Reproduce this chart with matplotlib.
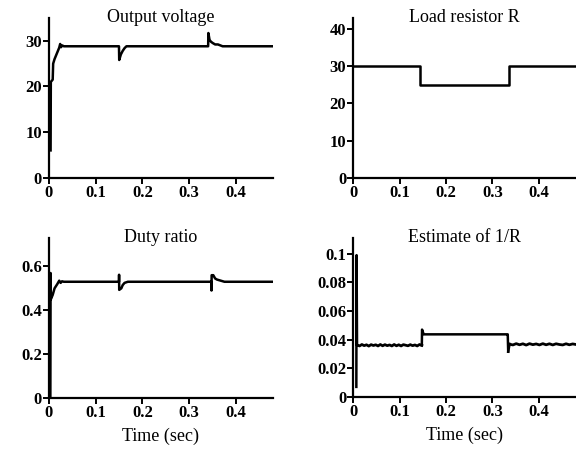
import numpy as np
import matplotlib
matplotlib.use("Agg")
import matplotlib.pyplot as plt

plt.rcParams['font.family'] = ['Liberation Serif', 'DejaVu Serif']

# output voltage (V)
t_v = [0.0035, 0.004, 0.008, 0.009, 0.012, 0.016, 0.02, 0.022, 0.024, 0.026, 0.028, 0.032,
       0.15, 0.1505, 0.154, 0.158, 0.162, 0.166, 0.341, 0.3415, 0.344, 0.347, 0.351, 0.356,
       0.362, 0.372, 0.48]
v_out = [6.0, 21.0, 21.5, 25.0, 26.0, 27.0, 28.0, 28.5, 29.3, 28.6, 29.0, 28.8,
         28.8, 25.8, 27.0, 27.8, 28.4, 28.8, 28.8, 31.7, 30.2, 29.8, 29.5, 29.2,
         29.2, 28.8, 28.8]

# load resistor (ohm)
t_r = [0, 0.144, 0.335, 0.48]
r_load = [30, 25, 30, 30]

# duty ratio
t_d = [0.003, 0.0035, 0.004, 0.008, 0.012, 0.018, 0.022, 0.025, 0.028, 0.032,
       0.15, 0.1502, 0.1505, 0.155, 0.158, 0.162, 0.169,
       0.348, 0.3482, 0.3485, 0.352, 0.356, 0.36, 0.368, 0.376, 0.48]
duty = [0.0, 0.57, 0.45, 0.47, 0.50, 0.52, 0.535, 0.525, 0.532, 0.53,
        0.53, 0.562, 0.493, 0.50, 0.515, 0.525, 0.53,
        0.53, 0.49, 0.56, 0.56, 0.545, 0.54, 0.535, 0.53, 0.53]

# estimate of 1/R
t_e = [0.007, 0.0075, 0.0085, 0.009, 0.148, 0.1485, 0.152, 0.33, 0.333, 0.334, 0.337]
est = [0.007, 0.099, 0.036, 0.036, 0.036, 0.047, 0.0437, 0.0437, 0.0437, 0.0316, 0.037]
est_noise1 = [0.0362, 0.0356, 0.0366, 0.0358, 0.0364, 0.0355, 0.0365, 0.0359, 0.0364,
              0.0356, 0.0366, 0.0357, 0.0365, 0.0358, 0.0363, 0.0356, 0.0366, 0.0357,
              0.0364, 0.0356, 0.0365, 0.0361, 0.0357, 0.0365, 0.0358, 0.0363, 0.0356,
              0.0366, 0.0360]
est_noise2 = [0.0368, 0.0363, 0.0372, 0.0364, 0.0371, 0.0362, 0.0372, 0.0365, 0.0370,
              0.0363, 0.0372, 0.0364, 0.0371, 0.0363, 0.0371, 0.0366, 0.0363, 0.0371,
              0.0364, 0.0370, 0.0366]

fig = plt.figure(figsize=(5.76, 4.49), dpi=100)
ax1 = fig.add_axes([0.085, 0.604, 0.389, 0.356])
ax2 = fig.add_axes([0.613, 0.604, 0.387, 0.356])
ax3 = fig.add_axes([0.085, 0.114, 0.389, 0.356])
ax4 = fig.add_axes([0.613, 0.116, 0.387, 0.354])

lw = 1.8
ax1.plot(t_v, v_out, color='black', lw=lw)
ax2.plot(t_r, r_load, color='black', lw=lw, drawstyle='steps-post')
ax3.plot(t_d, duty, color='black', lw=lw)
ax4.plot(t_e[:4], est[:4], color='black', lw=lw)
ax4.plot(np.linspace(0.009, 0.148, len(est_noise1)), est_noise1, color='black', lw=2.0)
ax4.plot(t_e[4:10], est[4:10], color='black', lw=lw)
ax4.plot([0.334, 0.337], [0.0316, 0.037], color='black', lw=lw)
ax4.plot(np.linspace(0.337, 0.48, len(est_noise2)), est_noise2, color='black', lw=2.0)

xt = [0, 0.1, 0.2, 0.3, 0.4]
xtl = ['0', '0.1', '0.2', '0.3', '0.4']
setup = [
    (ax1, 'Output voltage', (0, 35), [0, 10, 20, 30], ['0', '10', '20', '30']),
    (ax2, 'Load resistor R', (0, 43), [0, 10, 20, 30, 40], ['0', '10', '20', '30', '40']),
    (ax3, 'Duty ratio', (0, 0.73), [0, 0.2, 0.4, 0.6], ['0', '0.2', '0.4', '0.6']),
    (ax4, 'Estimate of 1/R', (0, 0.111), [0, 0.02, 0.04, 0.06, 0.08, 0.1],
     ['0', '0.02', '0.04', '0.06', '0.08', '0.1']),
]
for ax, title, yl, yt, ytl in setup:
    ax.set_xlim(0, 0.48)
    ax.set_ylim(*yl)
    ax.set_xticks(xt)
    ax.set_xticklabels(xtl)
    ax.set_yticks(yt)
    ax.set_yticklabels(ytl)
    for s in ['top', 'right']:
        ax.spines[s].set_visible(False)
    for s in ['left', 'bottom']:
        ax.spines[s].set_linewidth(1.6)
    ax.tick_params(width=1.4, length=4, labelsize=12, pad=1)
    for lab in ax.get_xticklabels() + ax.get_yticklabels():
        lab.set_fontweight('bold')
    ax.text(0.5, 1.005, title, transform=ax.transAxes, ha='center', va='center', fontsize=13)

ax3.set_xlabel('Time (sec)', fontsize=13, labelpad=5)
ax4.set_xlabel('Time (sec)', fontsize=13, labelpad=5)

fig.savefig('out.png', dpi=100)
